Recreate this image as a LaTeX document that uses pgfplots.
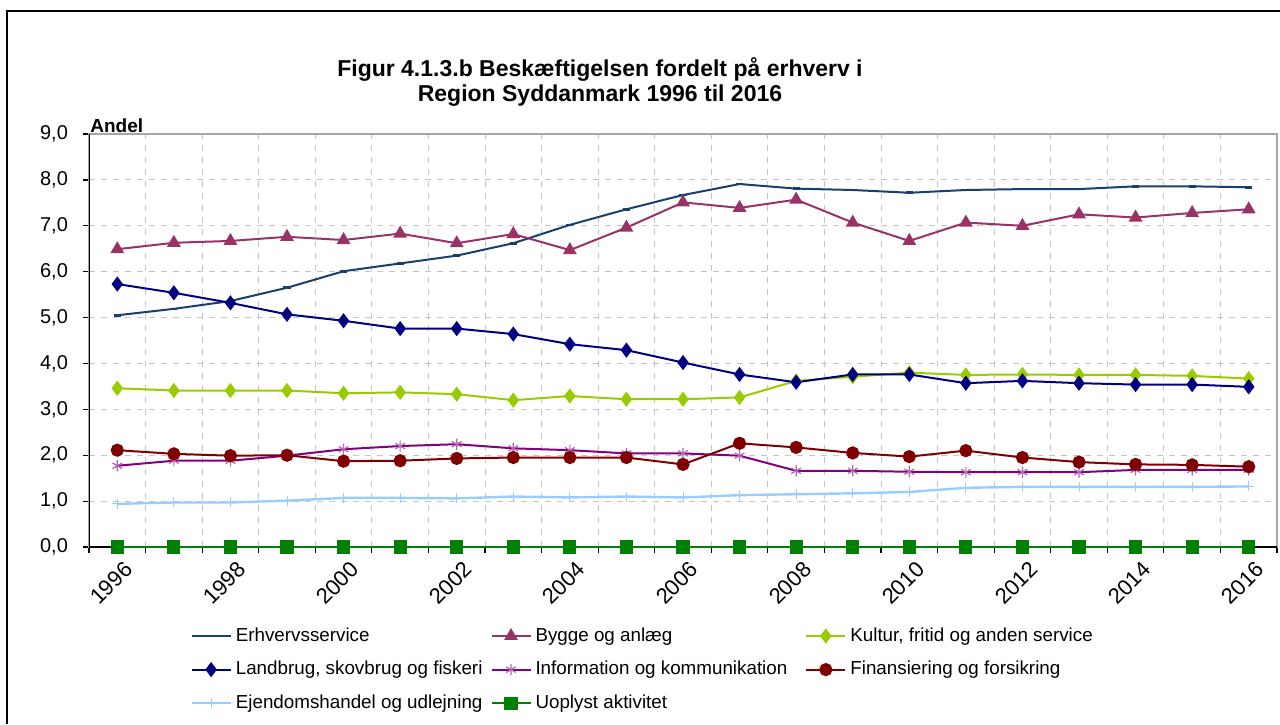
\documentclass[border=0pt]{standalone}
\usepackage{fontspec}
\setmainfont{Liberation Sans}
\usepackage{pgfplots}
\usepackage{pgfplotstable}
\pgfplotsset{compat=1.18}

\definecolor{erh}{HTML}{17406D}
\definecolor{byg}{HTML}{993366}
\definecolor{kul}{HTML}{99CC00}
\definecolor{lan}{HTML}{000080}
\definecolor{inf}{HTML}{800080}
\definecolor{fin}{HTML}{800000}
\definecolor{ejd}{HTML}{99CCFF}
\definecolor{uop}{HTML}{008000}

% x = 0 ... 20 svarer til 1996 ... 2016
\pgfplotstableread{
x  erh  byg  kul  lan  inf  fin  ejd  uop
0  5.05 6.49 3.46 5.73 1.77 2.11 0.94 0
1  5.19 6.63 3.41 5.54 1.88 2.03 0.97 0
2  5.36 6.67 3.41 5.32 1.88 1.99 0.97 0
3  5.65 6.76 3.41 5.07 1.99 2.00 1.01 0
4  6.01 6.69 3.35 4.93 2.13 1.87 1.07 0
5  6.18 6.83 3.37 4.76 2.20 1.88 1.07 0
6  6.35 6.62 3.33 4.76 2.24 1.93 1.06 0
7  6.62 6.82 3.20 4.64 2.15 1.95 1.10 0
8  7.02 6.47 3.29 4.42 2.11 1.95 1.08 0
9  7.36 6.96 3.22 4.29 2.04 1.95 1.10 0
10 7.67 7.51 3.22 4.02 2.04 1.80 1.08 0
11 7.91 7.39 3.26 3.76 1.99 2.26 1.13 0
12 7.81 7.57 3.62 3.59 1.66 2.17 1.15 0
13 7.78 7.07 3.71 3.76 1.66 2.05 1.17 0
14 7.72 6.67 3.80 3.76 1.64 1.97 1.20 0
15 7.78 7.07 3.75 3.57 1.63 2.10 1.29 0
16 7.80 7.00 3.76 3.62 1.63 1.95 1.31 0
17 7.80 7.25 3.75 3.57 1.63 1.85 1.31 0
18 7.86 7.18 3.75 3.54 1.68 1.80 1.31 0
19 7.86 7.28 3.73 3.54 1.68 1.79 1.31 0
20 7.84 7.36 3.67 3.49 1.68 1.75 1.32 0
}\data

\begin{document}
\begin{tikzpicture}
\useasboundingbox (0,0) rectangle (640pt,362pt);
\draw[line width=0.75pt] (3.5pt,0) -- (3.5pt,356.5pt) -- (640pt,356.5pt);

\node[font=\bfseries\fontsize{11.5}{12.5}\selectfont, align=center] at (300pt,321pt)
  {Figur 4.1.3.b Beskæftigelsen fordelt på erhverv i\\Region Syddanmark 1996 til 2016};
\node[font=\bfseries\fontsize{9.5}{10}\selectfont, anchor=base west, inner sep=0pt] at (45pt,295.5pt) {Andel};

\begin{axis}[
  at={(44.5pt,88.5pt)}, anchor=south west,
  scale only axis, width=594pt, height=206.5pt,
  xmin=-0.5, xmax=20.5, ymin=0, ymax=9,
  axis line style={draw=gray!70, line width=1pt},
  xtick={0,2,...,20},
  xticklabels={1996,1998,2000,2002,2004,2006,2008,2010,2012,2014,2016},
  major x tick style={draw=none},
  minor xtick={-0.5,0.5,...,20.5},
  minor x tick style={black, line width=0.6pt},
  xminorgrids,
  minor x grid style={gray!45, dashed, line width=0.5pt},
  ytick={0,1,...,9},
  ymajorgrids,
  major y grid style={gray!45, dashed, line width=0.5pt},
  y tick style={black, line width=0.6pt},
  tick align=outside,
  major tick length=3pt, minor tick length=3pt,
  xtick pos=bottom, ytick pos=left,
  /pgf/number format/.cd, fixed, fixed zerofill, precision=1, use comma, assume math mode=true,
  /pgfplots/.cd,
  yticklabel style={font=\fontsize{10}{12}\selectfont, xshift=-4pt},
  xticklabel style={font=\fontsize{11}{12}\selectfont, rotate=45, anchor=east, yshift=-8.5pt, xshift=3pt},
  legend columns=3,
  legend cell align=left,
  legend style={draw=none, at={(0.08,-0.175)}, anchor=north west,
    font=\fontsize{9.4}{11}\selectfont, row sep=4.5pt,
    /tikz/column 2/.style={column sep=2pt},
    /tikz/column 4/.style={column sep=7pt}},
  legend image code/.code={\draw[mark repeat=2, mark phase=2] plot coordinates {(0pt,0pt) (9.75pt,0pt) (19.5pt,0pt)};},
  every axis plot/.append style={line width=1pt},
]
\draw[black, line width=0.75pt] (rel axis cs:0,1) -- (rel axis cs:0,0) -- (rel axis cs:1,0);

\addplot[erh, mark=-, mark size=1.8pt, mark options={line width=1.3pt}] table[x=x, y=erh] {\data};
\addlegendentry{Erhvervsservice}
\addplot[byg, mark=triangle*, mark size=3pt] table[x=x, y=byg] {\data};
\addlegendentry{Bygge og anlæg}
\addplot[kul, mark=diamond*, mark size=3pt] table[x=x, y=kul] {\data};
\addlegendentry{Kultur, fritid og anden service}
\addplot[lan, mark=diamond*, mark size=3pt] table[x=x, y=lan] {\data};
\addlegendentry{Landbrug, skovbrug og fiskeri}
\addplot[inf, mark=asterisk, mark size=2.8pt, mark options={draw=inf!60, line width=0.6pt}] table[x=x, y=inf] {\data};
\addlegendentry{Information og kommunikation}
\addplot[fin, mark=*, mark size=2.8pt] table[x=x, y=fin] {\data};
\addlegendentry{Finansiering og forsikring}
\addplot[ejd, line width=1.2pt, mark=+, mark size=2.5pt, mark options={line width=0.5pt}] table[x=x, y=ejd] {\data};
\addlegendentry{Ejendomshandel og udlejning}
\addplot[uop, mark=square*, mark size=2.8pt] table[x=x, y=uop] {\data};
\addlegendentry{Uoplyst aktivitet}
\end{axis}
\end{tikzpicture}
\end{document}
